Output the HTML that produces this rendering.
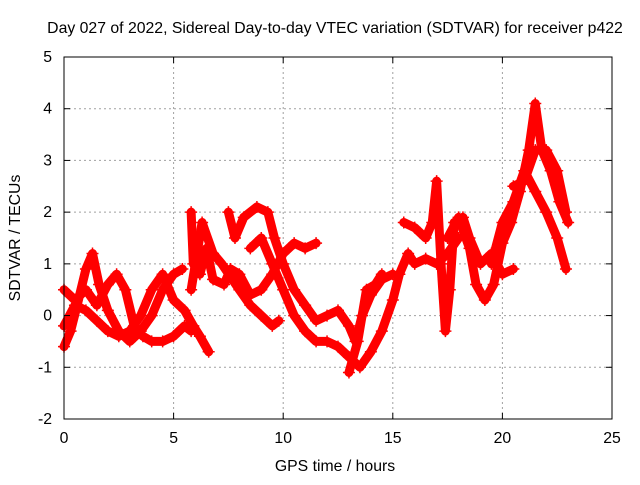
<!DOCTYPE html>
<html><head><meta charset="utf-8"><style>
body{margin:0;background:#fff;}
svg text{font-family:"Liberation Sans",sans-serif;font-size:15.8px;fill:#000;}
</style></head><body>
<svg width="640" height="480" xmlns="http://www.w3.org/2000/svg">
<rect width="640" height="480" fill="#fff"/>
<g id="grid"></g>
<g id="series"></g>
<g id="axes"></g>
<text x="335" y="33" text-anchor="middle">Day 027 of 2022, Sidereal Day-to-day VTEC variation (SDTVAR) for receiver p422</text>
<text x="335" y="471" text-anchor="middle">GPS time / hours</text>
<text transform="translate(20,238) rotate(-90)" text-anchor="middle">SDTVAR / TECUs</text>
</svg>
<script>
const xTicks=[0,5,10,15,20,25];
const yTicks=[-2,-1,0,1,2,3,4,5];
const trackA=[[0,-0.6],[0.3,-0.3],[0.6,0.2],[1,0.9],[1.3,1.2],[1.6,0.6],[2,0.1],[2.5,-0.3],[3,-0.5],[3.5,-0.3],[4,0],[4.5,0.5],[5,0.8],[5.4,0.9]];
const trackB=[[0,0.5],[0.5,0.3],[1,0.5],[1.5,0.2],[2,0.6],[2.4,0.8],[2.8,0.5],[3.2,-0.2],[3.6,-0.4],[4,-0.5],[4.5,-0.5],[5,-0.4],[5.5,-0.2],[5.8,-0.3]];
const trackC=[[0,-0.2],[0.5,0.2],[1,0.1],[1.5,-0.1],[2,-0.3],[2.5,-0.4],[3,-0.3],[3.5,0],[4,0.5],[4.5,0.8],[5,0.3],[5.5,0.1],[5.9,-0.2],[6.2,-0.4],[6.6,-0.7]];
const trackD=[[5.8,2.0],[5.9,1.0],[6.2,0.8],[6.5,1.3],[6.8,0.7],[7.3,0.6],[7.6,0.9],[8,0.8],[8.5,0.4],[9,0.5],[9.5,0.8],[10,1.2],[10.5,1.4],[11,1.3],[11.5,1.4]];
const trackE=[[5.8,0.5],[6.3,1.8],[6.8,1.2],[7.2,1.0],[8,0.5],[8.5,0.2],[9,0],[9.5,-0.2],[9.8,-0.1]];
const trackF=[[7.5,2.0],[7.8,1.5],[8.2,1.9],[8.8,2.1],[9.3,2.0],[9.6,1.5],[10,1.0],[10.5,0.5],[11,0.2],[11.5,-0.1],[12,0],[12.5,0.1],[13,-0.2],[13.3,-0.5],[13.6,0],[14,0.4],[14.5,0.7],[15,0.8]];
const trackG=[[8.5,1.3],[9,1.5],[9.5,1.0],[10,0.5],[10.5,0],[11,-0.3],[11.5,-0.5],[12,-0.5],[12.5,-0.6],[13,-0.8],[13.5,-1.0],[14,-0.7],[14.5,-0.3],[15,0.3],[15.3,0.8],[15.7,1.2],[16,1.0],[16.5,1.1],[17,1.0],[17.5,1.2],[18,1.5]];
const trackH=[[13,-1.1],[13.4,-0.5],[13.8,0.5],[14.2,0.6],[14.5,0.8]];
const trackI=[[15.5,1.8],[16,1.7],[16.5,1.5],[16.8,1.8],[17,2.6],[17.2,1.0],[17.4,-0.3],[17.6,0.5],[17.8,1.8],[18.2,1.9],[18.5,1.5],[19,1.0],[19.5,1.2],[20,0.8],[20.5,0.9]];
const trackJ=[[17.5,1.5],[18,1.9],[18.5,1.3],[18.8,0.6],[19.2,0.3],[19.6,0.6],[20,1.4],[20.4,1.8],[20.8,2.4],[21.2,3.2],[21.5,4.1],[21.8,3.2],[22.2,2.8],[22.6,2.2],[23,1.8]];
const trackK=[[19.5,1.0],[20,1.8],[20.5,2.2],[21,2.8],[21.5,2.4],[22,2.0],[22.5,1.5],[22.9,0.9]];
const trackL=[[20.5,2.5],[21,2.6],[21.5,3.2],[22,3.2],[22.5,2.8],[22.9,2.0]];
const tracks=[trackA,trackB,trackC,trackD,trackE,trackF,trackG,trackH,trackI,trackJ,trackK,trackL];

const L=64,R=612,T=57,B=419;
const xs=v=>L+(v-0)/25*(R-L);
const ys=v=>B-(v+2)/7*(B-T);
const NS="http://www.w3.org/2000/svg";
function mk(tag,attrs,parent){const e=document.createElementNS(NS,tag);for(const k in attrs)e.setAttribute(k,attrs[k]);parent.appendChild(e);return e;}
const grid=document.getElementById('grid'),axes=document.getElementById('axes'),ser=document.getElementById('series');
xTicks.forEach(t=>{
  const x=xs(t);
  if(t>0&&t<25){const g=mk('line',{x1:x,x2:x,y1:T,y2:B,stroke:'#a0a0a0','stroke-dasharray':'2,3'},grid);
  
  }
  mk('line',{x1:x,x2:x,y1:B,y2:B-6,stroke:'#000'},axes);
  mk('line',{x1:x,x2:x,y1:T,y2:T+6,stroke:'#000'},axes);
  const tx=mk('text',{x:x,y:B+24,'text-anchor':'middle'},axes);tx.textContent=t;
  
  
});
yTicks.forEach(t=>{
  const y=ys(t);
  if(t>-2&&t<5){const g=mk('line',{x1:L,x2:R,y1:y,y2:y,stroke:'#a0a0a0','stroke-dasharray':'2,3'},grid);
  
  }
  mk('line',{x1:L,x2:L+6,y1:y,y2:y,stroke:'#000'},axes);
  mk('line',{x1:R,x2:R-6,y1:y,y2:y,stroke:'#000'},axes);
  const tx=mk('text',{x:L-12,y:y+5,'text-anchor':'end'},axes);tx.textContent=t;
  
  
});
const fr=mk('rect',{x:L,y:T,width:R-L,height:B-T,fill:'none',stroke:'#000'},axes);


tracks.forEach((tr,i)=>{
  const p=mk('polyline',{points:tr.map(d=>xs(d[0])+','+ys(d[1])).join(' '),fill:'none',stroke:'#ff0000','stroke-width':9,'stroke-linejoin':'round','stroke-linecap':'round'},ser);
  
  
  tr.forEach(d=>{
    const x=xs(d[0]),y=ys(d[1]);
    const m=mk('path',{d:`M${x-6},${y}h12M${x},${y-6}v12`,stroke:'#ff0000','stroke-width':1.5},ser);
    
    
  });
});
</script>
</body></html>
